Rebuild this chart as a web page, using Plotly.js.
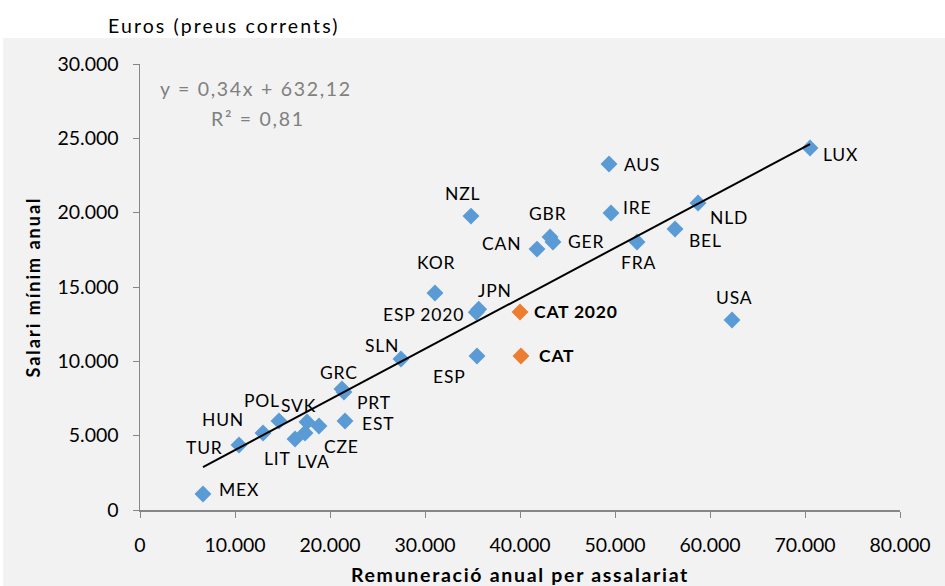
<!DOCTYPE html>
<html>
<head>
<meta charset="utf-8">
<script src="https://cdn.plot.ly/plotly-3.0.1.min.js"></script>
<style>html,body{margin:0;padding:0;background:#fff;}#chart{width:945px;height:586px;}</style>
</head>
<body>
<div id="chart"></div>
<script>
// ---- data ----
const countries = ['MEX','TUR','HUN','POL','SVK','CZE','LVA','LIT','EST','PRT','GRC','SLN','KOR','ESP 2020','JPN','ESP','NZL','CAN','GBR','GER','AUS','IRE','FRA','BEL','NLD','USA','LUX'];
const remuneracio = [6630,10420,12950,14630,17580,18840,17370,16320,21580,21470,21260,27470,31050,35400,35650,35470,34840,41790,43160,43470,49370,49580,52320,56320,58740,62320,70530];
const salariMinim = [1080,4370,5180,5990,5920,5650,5180,4780,5990,7940,8140,10160,14600,13300,13500,10360,19770,17550,18360,18030,23270,19980,18030,18900,20650,12780,24350];
const catNames = ['CAT 2020','CAT'];
const catRemuneracio = [40000,40100];
const catSalari = [13320,10360];
const trendSlope = 0.34;
const trendIntercept = 632.12;
const xTicks = [0,10000,20000,30000,40000,50000,60000,70000,80000];
const xTickLabels = ['0','10.000','20.000','30.000','40.000','50.000','60.000','70.000','80.000'];
const yTicks = [0,5000,10000,15000,20000,25000,30000];
const yTickLabels = ['0','5.000','10.000','15.000','20.000','25.000','30.000'];

// ---- label placement (style only) ----
const labelPos = {
  'MEX':[14,4,'left'],'TUR':[-14,-2,'right'],'HUN':[-17,13,'right'],'POL':[-17,20,'center'],
  'SVK':[-9,16,'center'],'CZE':[23,-20,'center'],'LVA':[8,-29,'center'],'LIT':[-18,-20,'center'],
  'EST':[15,-3,'left'],'PRT':[11,-11,'left'],'GRC':[-3,16,'center'],'SLN':[-19,13,'center'],
  'KOR':[1,30,'center'],'ESP 2020':[-10,-2,'right'],'JPN':[16,19,'center'],'ESP':[-27,-21,'center'],
  'NZL':[-8,23,'center'],'CAN':[-14,6,'right'],'GBR':[-3,24,'center'],'GER':[13,0,'left'],
  'AUS':[13,0,'left'],'IRE':[10,5,'left'],'FRA':[1,-21,'center'],'BEL':[12,-11,'left'],
  'NLD':[10,-14,'left'],'USA':[2,23,'center'],'LUX':[11,-6,'left'],
  'CAT 2020':[12,0,'left'],'CAT':[16,0,'left']
};

const FONT = 'Lato, "DejaVu Sans", sans-serif';
const sp = (t, px) => '<span style="letter-spacing:'+px+'px">'+t+'</span>';
const xMin = Math.min(...remuneracio), xMax = Math.max(...remuneracio);

const traces = [
  {type:'scatter', mode:'markers', x:remuneracio, y:salariMinim, text:countries,
   marker:{symbol:'diamond', size:13, color:'#5b9bd5'}, hoverinfo:'text+x+y'},
  {type:'scatter', mode:'markers', x:catRemuneracio, y:catSalari, text:catNames,
   marker:{symbol:'diamond', size:13, color:'#ed7d31'}, hoverinfo:'text+x+y'},
  {type:'scatter', mode:'lines', x:[xMin,xMax],
   y:[trendSlope*xMin+trendIntercept, trendSlope*xMax+trendIntercept],
   line:{color:'#000', width:2}, hoverinfo:'skip'}
];

const annotations = [];
function addLabels(names, xs, ys, bold){
  names.forEach((n,i)=>{
    const p = labelPos[n];
    const t = sp(n, 0.8);
    annotations.push({x:xs[i], y:ys[i], xref:'x', yref:'y', showarrow:false,
      text: bold ? '<b>'+t+'</b>' : t, xanchor:p[2], align:p[2], yanchor:'middle',
      xshift:p[0], yshift:p[1], font:{family:FONT, size:17.5, color:'#000'}});
  });
}
addLabels(countries, remuneracio, salariMinim, false);
addLabels(catNames, catRemuneracio, catSalari, true);

annotations.push({xref:'paper', yref:'paper', x:0.153, y:0.945, showarrow:false,
  text:sp('y = 0,34x + 632,12',1.7), xanchor:'center', yanchor:'middle',
  font:{family:FONT, size:19.5, color:'#808080'}});
annotations.push({xref:'paper', yref:'paper', x:0.155, y:0.877, showarrow:false,
  text:sp('R² = 0,81',1.7), xanchor:'center', yanchor:'middle',
  font:{family:FONT, size:19.5, color:'#808080'}});
annotations.push({xref:'paper', yref:'paper', x:-0.0447, y:1.087, showarrow:false,
  text:sp('Euros (preus corrents)',2.1), xanchor:'left', align:'left', yanchor:'middle',
  font:{family:FONT, size:19.5, color:'#000'}});

const layout = {
  width:945, height:586,
  margin:{l:140, r:45, t:64, b:76},
  paper_bgcolor:'#ffffff', plot_bgcolor:'rgba(0,0,0,0)',
  separators:',.',
  showlegend:false,
  font:{family:FONT, color:'#000'},
  xaxis:{range:[0,80000], tickmode:'array', tickvals:xTicks, ticktext:xTickLabels, showgrid:false, zeroline:false,
    showline:true, linecolor:'#868686', linewidth:1.5, ticks:'outside', ticklen:6, tickcolor:'#868686',
    tickfont:{family:FONT, size:19.5, color:'#000'}, ticklabelstandoff:11,
    title:{text:'<b>'+sp('Remuneració anual per assalariat',1.7)+'</b>', font:{family:FONT, size:19.5, color:'#000'}, standoff:16}},
  yaxis:{range:[0,30000], tickmode:'array', tickvals:yTicks, ticktext:yTickLabels, showgrid:false, zeroline:false,
    showline:true, linecolor:'#868686', linewidth:1.5, ticks:'outside', ticklen:6, tickcolor:'#868686',
    tickfont:{family:FONT, size:19.5, color:'#000'}, ticklabelstandoff:10,
    title:{text:'<b>'+sp('Salari mínim anual',2)+'</b>', font:{family:FONT, size:18, color:'#000'}, standoff:12}},
  shapes:[{type:'rect', xref:'paper', yref:'paper', x0:-0.18, x1:1.06, y0:-0.171, y1:1.0583,
    fillcolor:'#f2f2f2', line:{width:0}, layer:'below'}],
  annotations: annotations
};

Plotly.newPlot('chart', traces, layout, {displayModeBar:false, staticPlot:true});
</script>
</body>
</html>
